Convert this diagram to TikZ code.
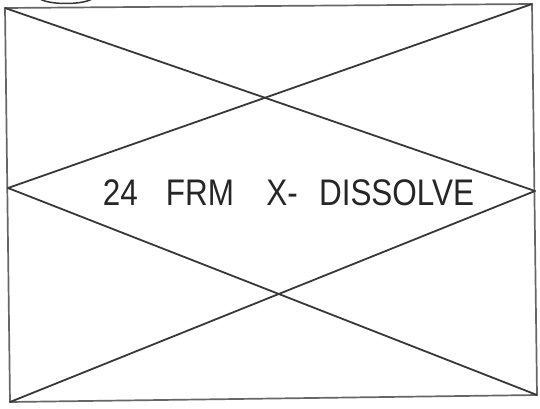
\documentclass[tikz,border=0pt]{standalone}
\usepackage{fontspec}
\setmainfont{Liberation Sans}
\begin{document}
\begin{tikzpicture}[x=1pt,y=-1pt,
  frameline/.style={draw=black!60,line width=1.7pt,line join=round},
  diag/.style={draw=black!78,line width=1.8pt,line cap=round},
  label/.style={text=black!85,font=\fontsize{37}{40}\selectfont,inner sep=0pt}]
\useasboundingbox (0,0) rectangle (540,409);
\fill[white] (0,0) rectangle (540,409);
% corners and mid points
\coordinate (TL) at (5,8);
\coordinate (TR) at (532,4);
\coordinate (ML) at (8,188);
\coordinate (MR) at (535,191);
\coordinate (BL) at (10,402);
\coordinate (BR) at (537,395);
% frame
\draw[frameline] (TL) -- (TR) -- (BR) -- (BL) -- cycle;
% diagonals
\draw[diag] (TL) -- (MR);
\draw[diag] (TR) -- (ML);
\draw[diag] (ML) -- (BR);
\draw[diag] (MR) -- (BL);
% partial circle at top
\coordinate (A1) at (40,-1);
\coordinate (A2) at (92,-1);
\draw[diag,line width=1.5pt] (A1) .. controls (50,5) and (82,5) .. (A2);
% label
\node[label,anchor=base] (txt) at (288.5,205)
  {\scalebox{0.85}[1]{24\hspace{33pt}FRM\hspace{38pt}X-\hspace{25pt}DISSOLVE}};
\end{tikzpicture}
\end{document}
